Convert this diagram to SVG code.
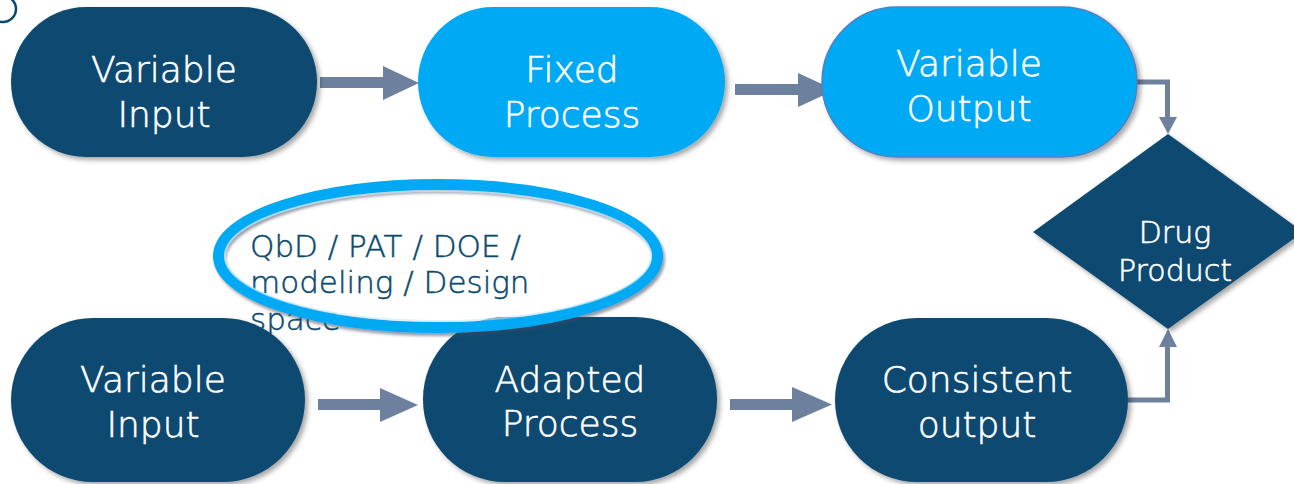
<svg xmlns="http://www.w3.org/2000/svg" width="1294" height="484" viewBox="0 0 1294 484">
  <style>
    .dark { fill: #0B4A6F; }
    .light { fill: #03A9F4; }
    .node-text { font-family: "DejaVu Sans", "Liberation Sans", sans-serif; font-weight: 200; font-size: 36px; fill: #FFFFFF; stroke: #FFFFFF; stroke-width: 0.6; text-anchor: middle; }
    .note-text { font-family: "DejaVu Sans", "Liberation Sans", sans-serif; font-weight: 200; font-size: 31px; fill: #0B4A6F; stroke: #0B4A6F; stroke-width: 0.5; }
    .conn { fill: #6D819E; }
    .elbow { fill: none; stroke: #6D819E; stroke-width: 5; }
  </style>
  <defs>
    <filter id="shadow" x="-10%" y="-10%" width="125%" height="130%">
      <feDropShadow dx="3" dy="3" stdDeviation="2.5" flood-color="#000000" flood-opacity="0.35"/>
    </filter>
    <filter id="ringShadow" x="-10%" y="-20%" width="120%" height="150%">
      <feDropShadow dx="2" dy="3" stdDeviation="1.5" flood-color="#3A4A60" flood-opacity="0.55"/>
    </filter>
    <clipPath id="noteClip">
      <rect x="200" y="200" width="400" height="134"/>
    </clipPath>
  </defs>

  <rect width="1294" height="484" fill="#FFFFFF"/>

  <!-- partial outlined circle at the corner -->
  <circle cx="3" cy="9" r="13" fill="none" stroke="#0B4A6F" stroke-width="2.5"/>

  <!-- annotation text (sits behind the lower row) -->
  <g id="note-text" clip-path="url(#noteClip)">
    <text class="note-text" x="250" y="257">QbD / PAT / DOE /</text>
    <text class="note-text" x="250" y="293">modeling / Design</text>
    <text class="note-text" x="250" y="330">space</text>
  </g>

  <!-- connectors -->
  <g id="connectors">
    <polygon class="conn" points="320,77 383,77 383,66 419,83 383,100 383,88 320,88"/>
    <polygon class="conn" points="735,84 798,84 798,73 835,90 798,107 798,95 735,95"/>
    <polygon class="conn" points="318,399 380,399 380,388 418,405 380,422 380,410 318,410"/>
    <polygon class="conn" points="730,399 792,399 792,387 832,404.5 792,422 792,410 730,410"/>
    <path class="elbow" d="M1137,82 H1167.5 V118"/>
    <polygon class="conn" points="1159,117 1177,117 1168,134"/>
    <path class="elbow" d="M1128,400 H1167.5 V346"/>
    <polygon class="conn" points="1159,347 1177,347 1168,329"/>
  </g>

  <!-- top row -->
  <g id="node-variable-input-top">
    <rect class="dark" x="11" y="7" width="306" height="150" rx="75" filter="url(#shadow)"/>
    <text class="node-text" x="164" y="82">Variable</text>
    <text class="node-text" x="164" y="127">Input</text>
  </g>
  <g id="node-fixed-process">
    <rect class="light" x="418" y="7" width="307" height="150" rx="75" filter="url(#shadow)"/>
    <text class="node-text" x="572" y="82">Fixed</text>
    <text class="node-text" x="572" y="127">Process</text>
  </g>
  <g id="node-variable-output">
    <rect class="light" x="822" y="7" width="315" height="150" rx="75" stroke="#4F80C0" stroke-width="1.5" filter="url(#shadow)"/>
    <text class="node-text" x="969" y="76">Variable</text>
    <text class="node-text" x="969" y="121">Output</text>
  </g>

  <!-- decision diamond -->
  <g id="node-drug-product">
    <polygon class="dark" points="1168,134 1303,232 1168,329 1033,232" filter="url(#shadow)"/>
    <text class="node-text" x="1175" y="243" style="font-size:30px">Drug</text>
    <text class="node-text" x="1175" y="281" style="font-size:30px">Product</text>
  </g>

  <!-- bottom row -->
  <g id="node-variable-input-bottom">
    <rect class="dark" x="11" y="318" width="294" height="164" rx="82" filter="url(#shadow)"/>
    <text class="node-text" x="153" y="392">Variable</text>
    <text class="node-text" x="153" y="437">Input</text>
  </g>
  <g id="node-adapted-process">
    <rect class="dark" x="423" y="317" width="294" height="165" rx="82" filter="url(#shadow)"/>
    <text class="node-text" x="570" y="392">Adapted</text>
    <text class="node-text" x="570" y="436">Process</text>
  </g>
  <g id="node-consistent-output">
    <rect class="dark" x="835" y="318" width="293" height="164" rx="82" filter="url(#shadow)"/>
    <text class="node-text" x="977" y="392">Consistent</text>
    <text class="node-text" x="977" y="437">output</text>
  </g>

  <!-- highlight ring around the annotation -->
  <g id="note-ring">
    <ellipse cx="438" cy="256" rx="219.5" ry="71.5" fill="none" stroke="#03A9F4" stroke-width="11" filter="url(#ringShadow)"/>
    <ellipse cx="438" cy="256" rx="213" ry="65" fill="none" stroke="#CFE9FA" stroke-width="2" opacity="0.7"/>
  </g>
</svg>
